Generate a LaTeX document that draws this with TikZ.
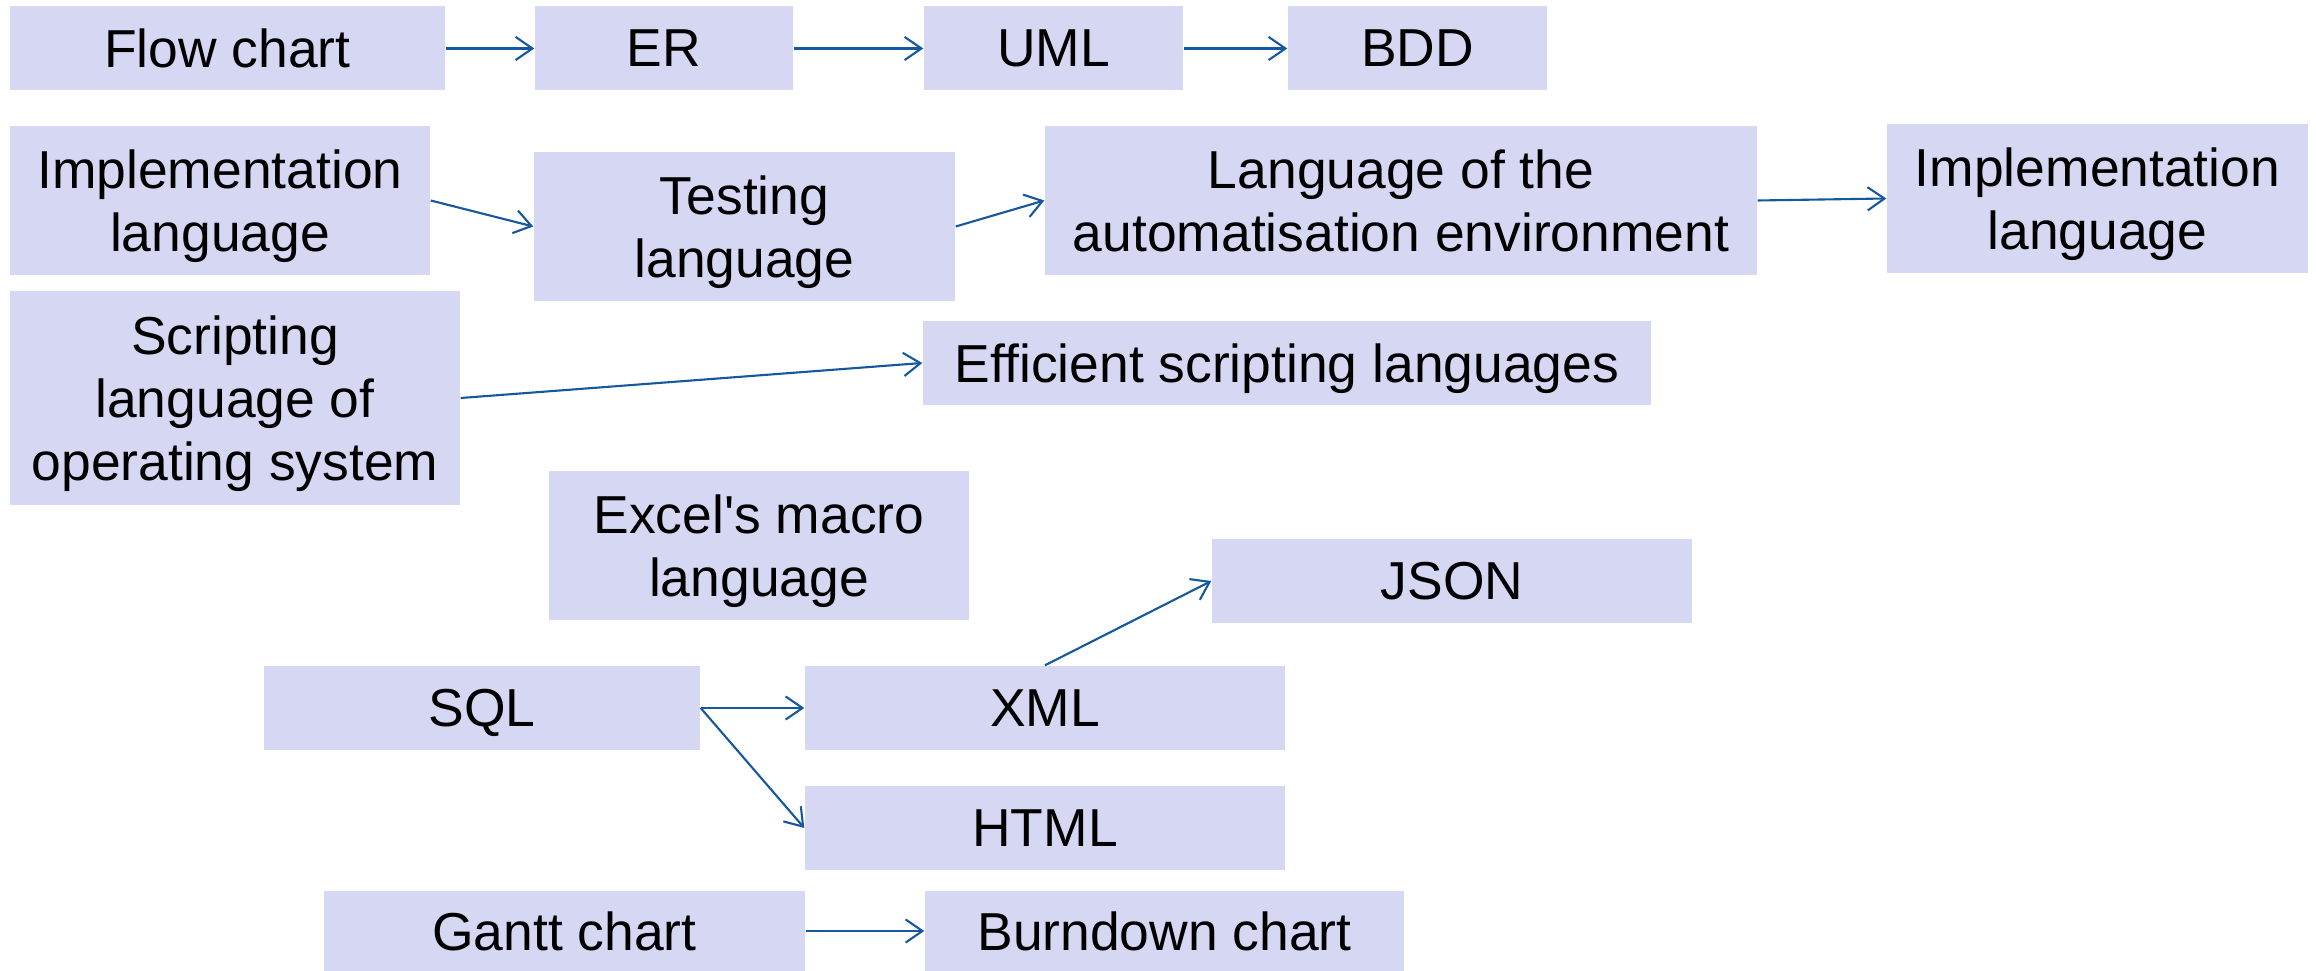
\documentclass[tikz,border=0pt]{standalone}
\usepackage{fontspec}
\setmainfont{Liberation Sans}
\usepackage{xcolor}
\definecolor{boxlilac}{RGB}{214,215,243}
\definecolor{linkblue}{RGB}{22,88,158}
\usepackage{tikz}
\usetikzlibrary{
  arrows.meta,
  positioning
}

\begin{document}
\begin{tikzpicture}[
  term/.style={rectangle, fill=boxlilac, inner sep=0pt, align=center, text depth=0pt, minimum height=0.84cm, font=\fontsize{15.2pt}{17.9pt}\selectfont},
  link/.style={-{Straight Barb[length=4.8pt, width=6.6pt]}, line width=0.6pt, linkblue}
]
  \useasboundingbox (0,0) rectangle (23.16,-9.71);

  \node[term, minimum width=4.35cm] (flow) at (2.275,-0.485) {Flow chart};
  \node[term, minimum width=2.58cm] (er) at (6.64,-0.485) {ER};
  \node[term, minimum width=2.59cm] (uml) at (10.535,-0.485) {UML};
  \node[term, minimum width=2.59cm] (bdd) at (14.175,-0.485) {BDD};

  \node[term, minimum width=4.20cm, minimum height=1.49cm] (implA) at (2.20,-2.005) {Implementation\\language};
  \node[term, minimum width=4.21cm, minimum height=1.49cm] (testing) at (7.445,-2.265) {Testing\\language};
  \node[term, minimum width=7.12cm, minimum height=1.49cm] (autolang) at (14.01,-2.005) {Language of the\\automatisation environment};
  \node[term, minimum width=4.21cm, minimum height=1.49cm] (implB) at (20.975,-1.985) {Implementation\\language};

  \node[term, minimum width=4.50cm, minimum height=2.14cm] (scripting) at (2.35,-3.98) {Scripting\\language of\\operating system};
  \node[term, minimum width=7.28cm] (efficient) at (12.87,-3.63) {Efficient scripting languages};

  \node[term, minimum width=4.20cm, minimum height=1.49cm] (excel) at (7.59,-5.455) {Excel\textquotesingle s macro\\language};
  \node[term, minimum width=4.80cm] (json) at (14.52,-5.81) {JSON};

  \node[term, minimum width=4.36cm] (sql) at (4.82,-7.08) {SQL};
  \node[term, minimum width=4.80cm] (xml) at (10.45,-7.08) {XML};
  \node[term, minimum width=4.80cm] (html) at (10.45,-8.28) {HTML};

  \node[term, minimum width=4.81cm, minimum height=0.80cm] (gantt) at (5.645,-9.31) {Gantt chart};
  \node[term, minimum width=4.79cm, minimum height=0.80cm] (burndown) at (11.645,-9.31) {Burndown chart};

  \draw[link] (flow) -- (er);
  \draw[link] (er) -- (uml);
  \draw[link] (uml) -- (bdd);
  \draw[link] (implA.east) -- (testing.west);
  \draw[link] (testing.east) -- (autolang.west);
  \draw[link] (autolang.east) -- (implB.west);
  \draw[link] (scripting.east) -- (efficient.west);
  \draw[link] (xml.north) -- (json.west);
  \draw[link] (sql.east) -- (xml.west);
  \draw[link] (sql.east) -- (html.west);
  \draw[link] (gantt) -- (burndown);
\end{tikzpicture}
\end{document}
